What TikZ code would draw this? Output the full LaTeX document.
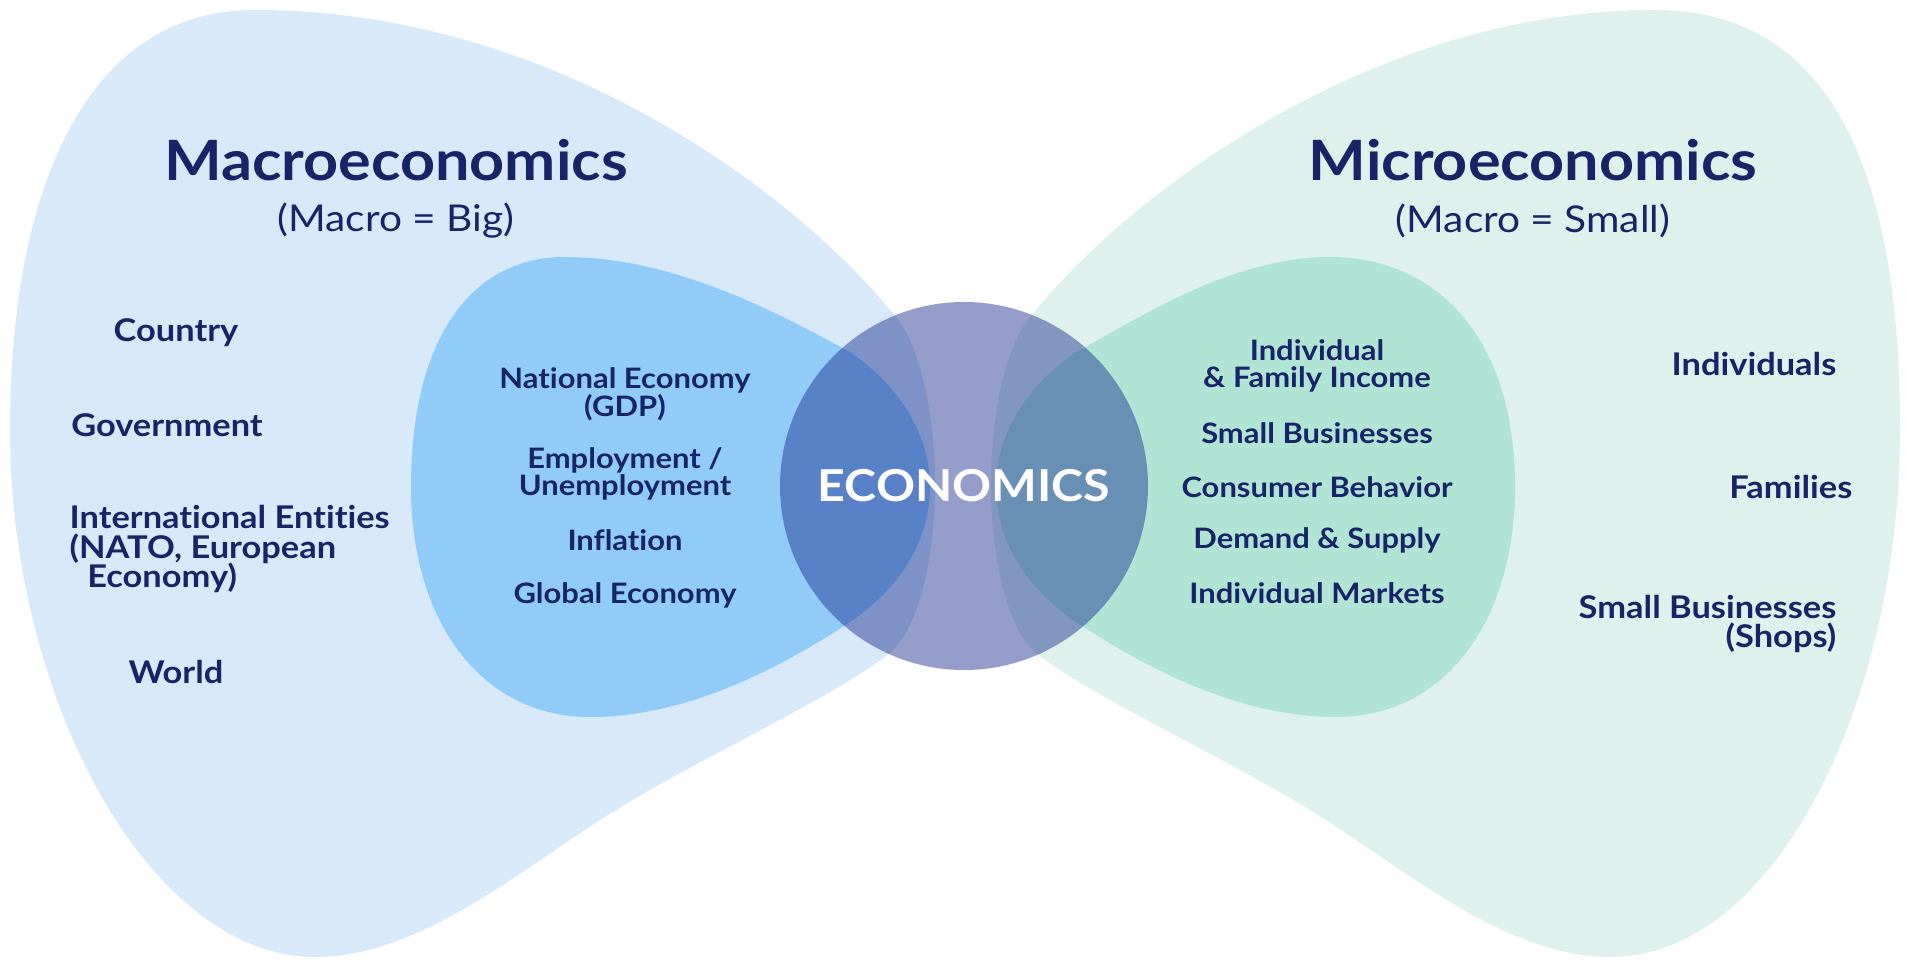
\documentclass[tikz,border=0pt]{standalone}
\usepackage{fontspec}
\setmainfont{Lato}[FakeStretch=1.1, Ligatures=NoCommon]

\definecolor{econavy}{RGB}{24,36,104}
\definecolor{macropale}{RGB}{216,234,250}
\definecolor{macromid}{RGB}{145,203,248}
\definecolor{micropale}{RGB}{222,241,236}
\definecolor{micromid}{RGB}{178,228,214}
\definecolor{econcore}{RGB}{20,40,140}

\tikzset{
  heading/.style={text=econavy, font=\fontsize{15.8}{18}\selectfont\bfseries},
  subheading/.style={text=econavy, font=\fontsize{10.5}{12}\selectfont},
  outeritem/.style={text=econavy, inner sep=0pt, font=\fontsize{8.9}{8.5}\selectfont\bfseries},
  inneritem/.style={text=econavy, inner sep=0pt, align=center, font=\fontsize{8}{7.9}\selectfont\bfseries},
}

\begin{document}
\begin{tikzpicture}[x=0.01cm, y=-0.01cm]
            \useasboundingbox (0,0) rectangle (1906,961);
            \fill[white] (0,0) rectangle (1906,961);

            % Outer regions
            \fill[macropale] (255,10)
                .. controls (80,10) and (10,200) .. (10,430)
                .. controls (10,700) and (150,957) .. (315,957)
                .. controls (420,957) and (520,870) .. (608,815)
                .. controls (700,757) and (830,700) .. (890,653)
                .. controls (950,600) and (950,370) .. (890,310)
                .. controls (800,200) and (560,10) .. (255,10) -- cycle;
            \fill[micropale] (1655,10)
                .. controls (1846,10) and (1900,200) .. (1900,430)
                .. controls (1900,700) and (1776,957) .. (1610,957)
                .. controls (1506,957) and (1406,870) .. (1318,815)
                .. controls (1226,757) and (1096,700) .. (1036,653)
                .. controls (976,600) and (976,370) .. (1036,310)
                .. controls (1126,200) and (1366,10) .. (1655,10) -- cycle;

            % Inner regions
            \fill[macromid] (411,487)
                .. controls (411,340) and (470,257) .. (565,257)
                .. controls (680,257) and (790,320) .. (850,352)
                .. controls (905,390) and (930,440) .. (930,487)
                .. controls (930,535) and (905,585) .. (850,622)
                .. controls (770,675) and (680,717) .. (590,717)
                .. controls (480,717) and (411,620) .. (411,487) -- cycle;
            \fill[micromid] (1515,487)
                .. controls (1515,330) and (1430,257) .. (1330,257)
                .. controls (1230,257) and (1136,320) .. (1076,352)
                .. controls (1021,390) and (996,440) .. (996,487)
                .. controls (996,535) and (1021,585) .. (1076,622)
                .. controls (1156,675) and (1246,717) .. (1336,717)
                .. controls (1446,717) and (1515,620) .. (1515,487) -- cycle;

            % Centre
            \fill[econcore, fill opacity=0.45] (964,486) circle (184);
            \node[text=white, font=\fontsize{12.5}{14}\selectfont\bfseries] (econ) at (964,486) {ECONOMICS};

            % Headings
            \node[heading] (macro) at (396,160) {Macroeconomics};
            \node[subheading] (macrosub) at (396,221) {(Macro = Big)};
            \node[heading] (micro) at (1533,160) {Microeconomics};
            \node[subheading] (microsub) at (1533,221) {(Macro = Small)};

            % Macro side
            \node[outeritem] (country) at (176,333) {Country};
            \node[outeritem] (govt) at (167,425) {Government};
            \node[outeritem, anchor=west, align=left] (intl) at (69,549)
                {International Entities\\(NATO, European\\\hspace*{5pt}Economy)};
            \node[outeritem] (world) at (176,672) {World};

            \node[inneritem] (gdp) at (625,394) {National Economy\\(GDP)};
            \node[inneritem] (employ) at (625,474) {Employment /\\Unemployment};
            \node[inneritem] (inflation) at (625,540) {Inflation};
            \node[inneritem] (global) at (625,595) {Global Economy};

            % Micro side
            \node[inneritem] (income) at (1317,366) {Individual\\\& Family Income};
            \node[inneritem] (smallbiz) at (1317,433) {Small Businesses};
            \node[inneritem] (consumer) at (1317,487) {Consumer Behavior};
            \node[inneritem] (demand) at (1317,540) {Demand \& Supply};
            \node[inneritem] (markets) at (1317,593) {Individual Markets};

            \node[outeritem, anchor=east] (indiv) at (1837,364) {Individuals};
            \node[outeritem, anchor=east] (families) at (1853,487) {Families};
            \node[outeritem, anchor=east, align=right] (shops) at (1837,624)
                {Small Businesses\\(Shops)};
\end{tikzpicture}
\end{document}
